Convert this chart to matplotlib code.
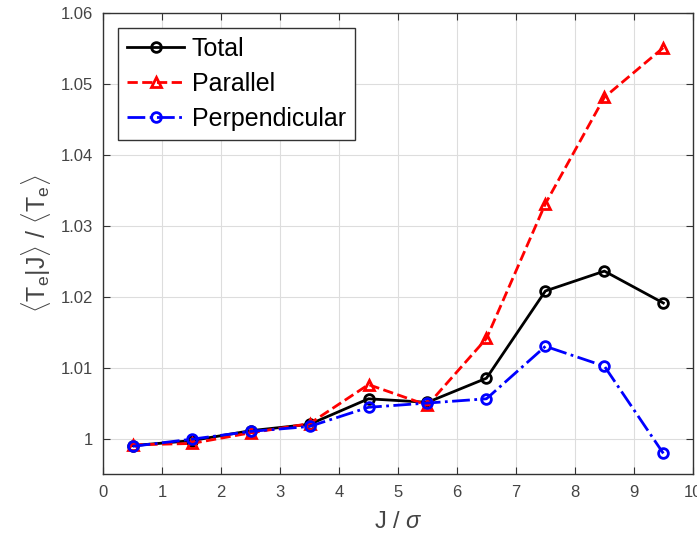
import matplotlib
matplotlib.use("Agg")
import matplotlib.pyplot as plt

plt.rcParams["font.family"] = ["Liberation Sans", "DejaVu Sans"]
plt.rcParams["mathtext.fontset"] = "custom"
plt.rcParams["mathtext.rm"] = "Liberation Sans"
plt.rcParams["mathtext.it"] = "Liberation Sans:italic"

# 数据
j_sigma = [0.5, 1.5, 2.5, 3.5, 4.5, 5.5, 6.5, 7.5, 8.5, 9.5]
total = [0.9990, 0.9997, 1.0011, 1.0020, 1.0056, 1.0051, 1.0085, 1.0208, 1.0236, 1.0191]
parallel = [0.9991, 0.9993, 1.0008, 1.0021, 1.0076, 1.0047, 1.0141, 1.0331, 1.0481, 1.0551]
perpendicular = [0.9989, 0.9999, 1.0010, 1.0017, 1.0044, 1.0050, 1.0056, 1.0130, 1.0102, 0.9979]

fig = plt.figure(figsize=(6.97, 5.38), dpi=100)
ax = fig.add_axes([0.148, 0.119, 0.846, 0.857])

ax.plot(j_sigma, total, "-o", color="black", lw=2, ms=7, mfc="none", mew=2, label="Total")
ax.plot(j_sigma, parallel, "--^", color="red", lw=2, ms=7, mfc="none", mew=2, label="Parallel")
ax.plot(j_sigma, perpendicular, "-.o", color="blue", lw=2, ms=7, mfc="none", mew=2, label="Perpendicular")

ax.set_xlim(0, 10)
ax.set_ylim(0.995, 1.06)
ax.set_xticks(range(11))
ax.set_yticks([1, 1.01, 1.02, 1.03, 1.04, 1.05, 1.06])
ax.set_yticklabels(["1", "1.01", "1.02", "1.03", "1.04", "1.05", "1.06"])
ax.grid(True, color="#dddddd", lw=0.8)
ax.set_axisbelow(True)
ax.tick_params(direction="in", length=5, labelsize=12, colors="#333333",
               top=True, right=True, labeltop=False, labelright=False)
ax.tick_params(axis="x", pad=8)
ax.tick_params(axis="y", pad=7)
ax.tick_params(axis="both", labelcolor="#444444")
for s in ax.spines.values():
    s.set_color("#333333")
    s.set_linewidth(1)

ax.set_xlabel(r"J / $\sigma$", fontsize=17, color="#444444", labelpad=8)
ax.set_ylabel(r"$\langle$T$_\mathrm{e}$|J$\rangle$ / $\langle$T$_\mathrm{e}\rangle$",
              fontsize=18, color="#444444", labelpad=6)

leg = ax.legend(loc="upper left", fontsize=18, fancybox=False, edgecolor="#333333",
                framealpha=1, handlelength=2.3, borderaxespad=0.6, labelspacing=0.45,
                handletextpad=0.3, borderpad=0.35)
leg.get_frame().set_linewidth(1)

plt.savefig("out.png", dpi=100)
plt.close()
